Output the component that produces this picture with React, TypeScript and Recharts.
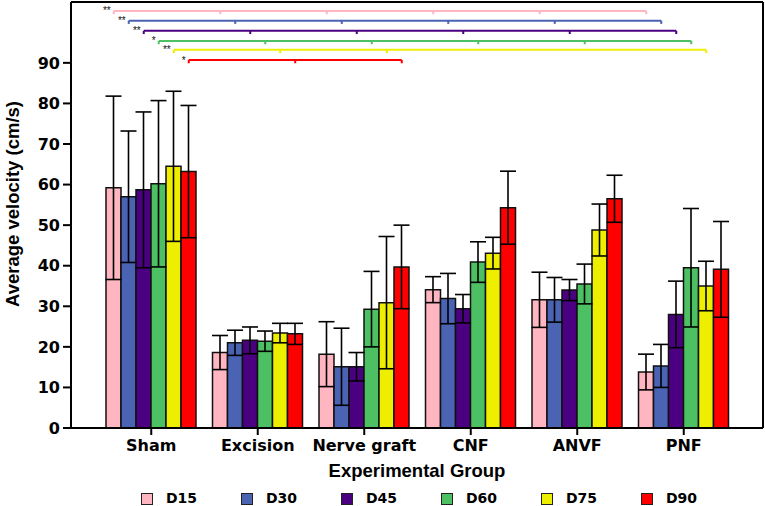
import { BarChart, Bar, ErrorBar, XAxis, YAxis, Legend, ReferenceLine } from 'recharts';

const categories = ['Sham', 'Excision', 'Nerve graft', 'CNF', 'ANVF', 'PNF'];
const seriesNames = ['D15', 'D30', 'D45', 'D60', 'D75', 'D90'];
const COLORS = ['#FFB6C1', '#4A63B3', '#4B0082', '#4CC062', '#EEEE00', '#FF0000'];

const d15 = [59.2, 18.6, 18.2, 34.1, 31.6, 13.8];
const d15Err = [22.6, 4.2, 8.0, 3.2, 6.8, 4.4];
const d30 = [57.0, 21.0, 15.1, 31.9, 31.6, 15.3];
const d30Err = [16.2, 3.1, 9.5, 6.2, 5.5, 5.3];
const d45 = [58.7, 21.6, 15.1, 29.4, 34.0, 28.0];
const d45Err = [19.2, 3.3, 3.5, 3.5, 2.6, 8.2];
const d60 = [60.2, 21.4, 29.3, 40.9, 35.5, 39.5];
const d60Err = [20.5, 2.5, 9.3, 5.0, 4.9, 14.6];
const d75 = [64.5, 23.4, 30.9, 43.1, 48.8, 35.0];
const d75Err = [18.5, 2.4, 16.3, 3.9, 6.4, 6.1];
const d90 = [63.2, 23.2, 39.7, 54.3, 56.5, 39.1];
const d90Err = [16.3, 2.6, 10.3, 9.0, 5.8, 11.8];

const yTicks = [0, 10, 20, 30, 40, 50, 60, 70, 80, 90];

// significance brackets: one per series, Sham vs the listed groups
const bracketLevels = [102.8, 100.4, 97.9, 95.4, 93.2, 90.7];
const bracketStars = ['**', '**', '**', '*', '**', '*'];
const bracketTargets = [
  [0, 1, 2, 3, 4, 5],
  [0, 1, 2, 3, 4, 5],
  [0, 1, 2, 3, 4, 5],
  [0, 1, 2, 3, 4, 5],
  [0, 1, 2, 5],
  [0, 1, 2],
];

const means = [d15, d30, d45, d60, d75, d90];
const errs = [d15Err, d30Err, d45Err, d60Err, d75Err, d90Err];

const data = categories.map((group, i) => {
  const row: Record<string, string | number> = { group };
  seriesNames.forEach((name, j) => {
    row[name] = means[j][i];
    row[name + 'err'] = errs[j][i];
  });
  return row;
});

const W = 765;
const H = 506;
const PAD_L = 27;
const PAD_R = 26;
const BAR = 15;
const band = (W - 71 - 2 - PAD_L - PAD_R) / categories.length;
const slot = BAR / band;

const tickFont = { fontFamily: '"DejaVu Sans", sans-serif', fontWeight: 700, fontSize: 16, fill: '#000' };
const titleFont = { fontFamily: '"Liberation Sans", Arial, sans-serif', fontWeight: 700, fontSize: 18.5, fill: '#000' };

const YLabel = (props: any) => {
  const vb = props.viewBox;
  const cx = vb.x + 12;
  const cy = vb.y + vb.height / 2 - 11;
  return (
    <text x={cx} y={cy} transform={`rotate(-90, ${cx}, ${cy})`} textAnchor="middle" dominantBaseline="central" {...titleFont}>
      Average velocity (cm/s)
    </text>
  );
};

const renderLegend = () => (
  <div style={{ position: 'relative', height: 24, width: W }}>
    {seriesNames.map((name, i) => (
      <div key={name} style={{ position: 'absolute', left: 141 + i * 100, top: 10, display: 'flex', alignItems: 'center', height: 13 }}>
        <span style={{ display: 'inline-block', width: 10, height: 10, border: '1.5px solid #222', background: COLORS[i] }} />
        <span style={{ marginLeft: 13, fontFamily: '"DejaVu Sans", sans-serif', fontWeight: 700, fontSize: 14, color: '#000', lineHeight: '13px' }}>{name}</span>
      </div>
    ))}
  </div>
);

const App = () => {
  const brackets = bracketLevels.flatMap((level, i) => {
    const off = (i - 2.5) * slot;
    const targets = bracketTargets[i];
    const first = targets[0] + off;
    const last = targets[targets.length - 1] + off;
    const lines = [
      <ReferenceLine
        key={`b-${i}`}
        xAxisId="num"
        segment={[{ x: first, y: level }, { x: last, y: level }]}
        stroke={COLORS[i]}
        strokeWidth={2}
        ifOverflow="visible"
        label={{ value: bracketStars[i], position: 'left', offset: 3, fontSize: 10, fill: '#111', stroke: 'none', fontFamily: '"Liberation Sans", Arial, sans-serif' }}
      />,
    ];
    targets.forEach((t) => {
      lines.push(
        <ReferenceLine
          key={`t-${i}-${t}`}
          xAxisId="num"
          segment={[{ x: t + off, y: level }, { x: t + off, y: level - 0.8 }]}
          stroke={COLORS[i]}
          strokeWidth={2}
          ifOverflow="visible"
        />
      );
    });
    return lines;
  });

  return (
    <div style={{ position: 'absolute', left: 0, top: 0, width: W, height: H, background: '#fff' }}>
      <BarChart width={W} height={H} data={data} margin={{ top: 1, right: 1, left: 0, bottom: 0 }} barGap={0} barSize={BAR}>
        <XAxis
          dataKey="group"
          height={54}
          padding={{ left: PAD_L, right: PAD_R }}
          interval={0}
          tick={tickFont}
          tickSize={7}
          tickMargin={5}
          axisLine={{ stroke: '#000', strokeWidth: 2 }}
          tickLine={{ stroke: '#000', strokeWidth: 2 }}
          label={{ value: 'Experimental Group', position: 'insideBottom', offset: 5, ...titleFont }}
        />
        <XAxis
          xAxisId="num"
          type="number"
          orientation="top"
          domain={[0, categories.length - 1]}
          allowDataOverflow
          padding={{ left: PAD_L + band / 2, right: PAD_R + band / 2 }}
          height={1}
          tick={false}
          tickLine={false}
          axisLine={{ stroke: '#000', strokeWidth: 2 }}
        />
        <YAxis
          width={71}
          domain={[0, 105]}
          ticks={yTicks}
          allowDataOverflow
          interval={0}
          tick={tickFont}
          tickSize={8}
          tickMargin={3}
          axisLine={{ stroke: '#000', strokeWidth: 2 }}
          tickLine={{ stroke: '#000', strokeWidth: 2 }}
          label={YLabel}
        />
        <YAxis
          yAxisId="frame"
          orientation="right"
          width={1}
          domain={[0, 105]}
          tick={false}
          tickLine={false}
          axisLine={{ stroke: '#000', strokeWidth: 2 }}
        />
        <Legend verticalAlign="bottom" content={renderLegend} wrapperStyle={{ left: 0, width: W, height: 24 }} />
        {seriesNames.map((name, j) => (
          <Bar key={name} dataKey={name} fill={COLORS[j]} stroke="#111" strokeWidth={1.5} isAnimationActive={false}>
            <ErrorBar dataKey={name + 'err'} width={8} stroke="#000" strokeWidth={1.6} direction="y" isAnimationActive={false} />
          </Bar>
        ))}
        {brackets}
      </BarChart>
    </div>
  );
};

export default App;
